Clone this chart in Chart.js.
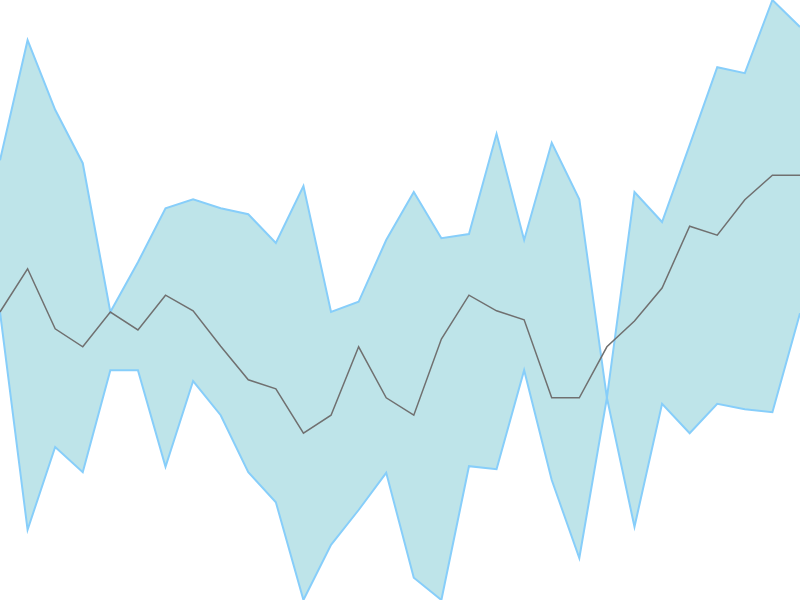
<!DOCTYPE html>
<html>
<head>
<meta charset="utf-8">
<script src="https://cdn.jsdelivr.net/npm/chart.js@4"></script>
<style>
    html, body { margin: 0; padding: 0; background: #ffffff; }
    #wrap { width: 800px; height: 600px; }
</style>
</head>
<body>
<div id="wrap"><canvas id="band-chart"></canvas></div>
<script>
// 30 samples, values on a 0..100 scale
const labels = Array.from({ length: 30 }, (_, i) => i + 1);

const upperValues = [
    73.3, 93.3, 81.7, 72.8, 48.0, 56.3, 65.3, 66.8, 65.3, 64.3,
    59.5, 69.0, 48.0, 49.7, 60.0, 68.0, 60.3, 61.0, 77.7, 60.0,
    76.2, 66.8, 33.7, 68.0, 63.0, 75.8, 88.8, 87.8, 100.0, 95.5
];

const meanValues = [
    48.0, 55.2, 45.2, 42.2, 48.0, 45.0, 50.8, 48.2, 42.3, 36.7,
    35.2, 27.8, 30.8, 42.2, 33.7, 30.8, 43.5, 50.8, 48.2, 46.7,
    33.7, 33.7, 42.2, 46.5, 52.0, 62.3, 60.8, 66.7, 70.8, 70.8
];

const lowerValues = [
    48.0, 11.7, 25.5, 21.3, 38.3, 38.3, 22.2, 36.5, 30.8, 21.3,
    16.3, 0.0, 9.2, 15.0, 21.2, 3.7, 0.0, 22.3, 21.8, 38.3,
    20.0, 7.0, 33.7, 12.2, 32.7, 27.8, 32.7, 31.8, 31.3, 47.8
];

const BAND_LINE = '#87cefa'; // lightskyblue
const BAND_FILL = 'rgba(190, 228, 233, 1)';
const MEAN_LINE = '#707070';

const ctx = document.getElementById('band-chart').getContext('2d');

new Chart(ctx, {
    type: 'line',
    data: {
        labels: labels,
        datasets: [
            {
                label: 'Upper',
                data: upperValues,
                borderColor: BAND_LINE,
                backgroundColor: BAND_FILL,
                borderWidth: 2,
                pointRadius: 0,
                tension: 0,
                fill: '+2',
                order: 2
            },
            {
                label: 'Mean',
                data: meanValues,
                borderColor: MEAN_LINE,
                borderWidth: 1.5,
                pointRadius: 0,
                tension: 0,
                fill: false,
                order: 0
            },
            {
                label: 'Lower',
                data: lowerValues,
                borderColor: BAND_LINE,
                borderWidth: 2,
                pointRadius: 0,
                tension: 0,
                fill: false,
                order: 1
            }
        ]
    },
    options: {
        responsive: true,
        maintainAspectRatio: false,
        animation: false,
        layout: { padding: 0 },
        plugins: {
            legend: { display: false },
            tooltip: { enabled: false }
        },
        scales: {
            x: { display: false, offset: false },
            y: { display: false, min: 0, max: 100 }
        }
    }
});
</script>
</body>
</html>
